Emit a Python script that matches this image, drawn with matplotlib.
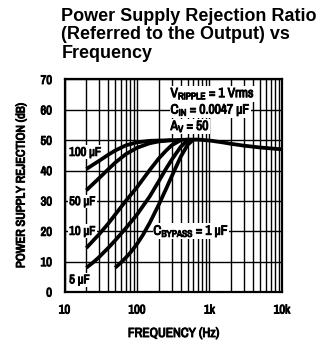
import matplotlib
matplotlib.use("Agg")
import matplotlib.pyplot as plt
from matplotlib import font_manager
import matplotlib.patheffects as pe
from matplotlib.ticker import FixedLocator, NullFormatter, LogLocator

COND = "Liberation Sans"
for f in font_manager.fontManager.ttflist:
    if ("Narrow" in f.name or "Condensed" in f.name) and "Mono" not in f.name and "Serif" not in f.name:
        COND = f.name
        break
TITLEF = "Liberation Sans"
BOLD = [pe.withStroke(linewidth=0.7, foreground='black')]

plt.rcParams['mathtext.fontset'] = 'custom'
plt.rcParams['mathtext.rm'] = COND + ':bold'
plt.rcParams['mathtext.it'] = COND + ':bold'
plt.rcParams['mathtext.bf'] = COND + ':bold'
plt.rcParams['mathtext.default'] = 'rm'

# ---- data ----
f_100 = [20, 25, 30, 40, 50, 70, 100, 150, 200, 300, 500, 700, 1000, 1500, 2000, 3000, 5000, 7000, 10000]
db_100 = [40.5, 42.0, 43.2, 45.2, 46.6, 48.3, 49.3, 49.8, 49.9, 50.0, 50.2, 50.2, 49.9, 49.3, 48.8, 48.2, 47.6, 47.3, 47.0]

f_50 = [20, 25, 30, 40, 50, 70, 100, 150, 200, 300]
db_50 = [33.5, 35.7, 37.5, 40.4, 42.6, 45.4, 47.5, 49.0, 49.6, 50.0]

f_10 = [20, 25, 30, 40, 50, 70, 100, 150, 200, 250, 300, 400]
db_10 = [14.5, 17.0, 19.0, 22.5, 25.5, 30.0, 34.5, 40.2, 44.0, 46.5, 48.3, 50.0]

f_5 = [20, 25, 30, 40, 50, 70, 100, 150, 200, 250, 300, 400, 500]
db_5 = [8.0, 9.8, 11.5, 14.5, 17.0, 21.0, 25.5, 31.5, 36.5, 40.5, 43.5, 47.8, 50.0]

f_1 = [50, 60, 70, 80, 100, 120, 150, 200, 250, 300, 400, 500, 600]
db_1 = [8.0, 9.7, 11.3, 12.8, 15.8, 18.7, 22.8, 28.8, 33.8, 38.0, 44.5, 48.5, 50.2]

x_ticks = [10, 100, 1000, 10000]
x_labels = ["10", "100", "1k", "10k"]
y_ticks = [0, 10, 20, 30, 40, 50, 60, 70]

fig = plt.figure(figsize=(3.3, 3.47), dpi=100)
ax = fig.add_axes([0.1955, 0.1585, 0.659, 0.6124])
ax.set_xscale('log')
ax.set_xlim(10, 10000)
ax.set_ylim(0, 70)

ax.xaxis.set_major_locator(FixedLocator(x_ticks))
ax.xaxis.set_minor_locator(LogLocator(base=10, subs=range(2, 10)))
ax.xaxis.set_minor_formatter(NullFormatter())
ax.set_xticks(x_ticks)
ax.set_xticklabels(x_labels)
ax.set_yticks(y_ticks)
ax.tick_params(which='both', length=0, pad=9, labelsize=9)
for lab in ax.get_xticklabels() + ax.get_yticklabels():
    lab.set_fontfamily(COND)
    lab.set_fontweight('bold')
    lab.set_path_effects(BOLD)

ax.grid(which='both', axis='x', color='black', lw=1.0)
ax.grid(which='major', axis='y', color='black', lw=1.0)
ax.set_axisbelow(True)
for s in ax.spines.values():
    s.set_linewidth(1.6)

lw = 2.7
for fx, dy in [(f_100, db_100), (f_50, db_50), (f_10, db_10), (f_5, db_5), (f_1, db_1)]:
    ax.plot(fx, dy, color='black', lw=lw, solid_capstyle='butt', zorder=4)

bb = dict(facecolor='white', edgecolor='none', pad=1.0)
kw = dict(fontfamily=COND, fontweight='bold', fontsize=9, va='center', ha='left', bbox=bb, zorder=3,
          path_effects=BOLD)
ax.text(11.6, 46, "100 µF", **kw)
ax.text(11.6, 29.8, "50 µF", **kw)
ax.text(11.6, 20, "10 µF", **kw)
ax.text(11.6, 4, "5 µF", **kw)

kw2 = dict(kw, fontsize=9.7, bbox=dict(facecolor='white', edgecolor='none', pad=0.2))
ax.text(168, 20, r"C$_{BYPASS}$ = 1 µF", **kw2)
ax.text(290, 65.3, r"V$_{RIPPLE}$ = 1 Vrms", **kw2)
ax.text(290, 59.9, r"C$_{IN}$ = 0.0047 µF", **kw2)
ax.text(290, 54.5, r"A$_{V}$ = 50", **kw2)

ax.set_ylabel("POWER SUPPLY REJECTION (dB)", fontfamily=COND, fontweight='bold', fontsize=9, labelpad=10,
              path_effects=BOLD)
ax.set_xlabel("FREQUENCY (Hz)", fontfamily=COND, fontweight='bold', fontsize=9.5, labelpad=9,
              path_effects=BOLD)

fig.text(0.186, 0.978, "Power Supply Rejection Ratio\n(Referred to the Output) vs\nFrequency",
         fontfamily=TITLEF, fontweight='bold', fontsize=13, va='top', ha='left', linespacing=1.12)

fig.savefig("out.png", dpi=100)
